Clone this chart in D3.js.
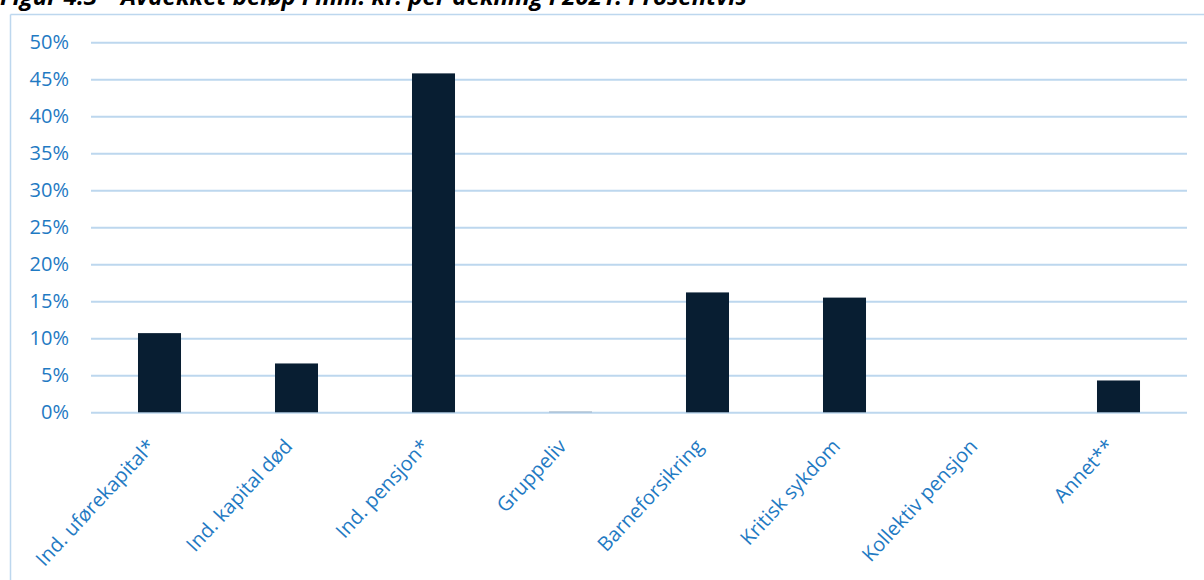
<!DOCTYPE html>
<html>
<head>
<meta charset="utf-8">
<script src="https://cdn.jsdelivr.net/npm/d3@7"></script>
<style>
  html, body { margin: 0; padding: 0; background: #fff; }
  svg { display: block; font-family: "Open Sans", "Noto Sans", sans-serif; }
</style>
</head>
<body>
<svg id="chart" width="1204" height="580"></svg>
<script>
// Share of uncovered amount (mill. kr.) per coverage type, 2021
const categories = [
  "Ind. uførekapital*",
  "Ind. kapital død",
  "Ind. pensjon*",
  "Gruppeliv",
  "Barneforsikring",
  "Kritisk sykdom",
  "Kollektiv pensjon",
  "Annet**"
];
const shares = [10.7, 6.6, 45.8, 0.1, 16.2, 15.5, 0.0, 4.3];
const yTicks = [0, 5, 10, 15, 20, 25, 30, 35, 40, 45, 50];
const titleText = "Figur 4.3 – Avdekket beløp i mill. kr. per dekning i 2021. Prosentvis";

const svg = d3.select("#chart");
const W = 1204, H = 580;
const plot = { left: 91, right: 1187, top: 42.3, bottom: 412.3 };

const x = d3.scaleBand()
  .domain(categories)
  .range([plot.left, plot.right])
  .paddingInner(0.686)
  .paddingOuter(0.343);

const y = d3.scaleLinear()
  .domain([0, 50])
  .range([plot.bottom, plot.top]);

// Title (cropped by the top edge)
svg.append("text")
  .attr("x", 0)
  .attr("y", 5)
  .attr("font-size", 24)
  .attr("font-weight", "bold")
  .attr("font-style", "italic")
  .attr("fill", "#000")
  .text(titleText);

// Chart frame
svg.append("line")
  .attr("x1", 10.5).attr("x2", W).attr("y1", 14.5).attr("y2", 14.5)
  .attr("stroke", "#bdd7ee").attr("stroke-width", 1.5);
svg.append("line")
  .attr("x1", 10.5).attr("x2", 10.5).attr("y1", 14.5).attr("y2", H)
  .attr("stroke", "#bdd7ee").attr("stroke-width", 1.5);

// Gridlines and y tick labels
const yAxis = d3.axisLeft(y)
  .tickValues(yTicks)
  .tickSize(-(plot.right - plot.left))
  .tickPadding(22)
  .tickFormat(d => d + "%");

const gy = svg.append("g")
  .attr("transform", `translate(${plot.left},0)`)
  .call(yAxis);
gy.select(".domain").remove();
gy.selectAll(".tick line")
  .attr("stroke", "#bdd7ee")
  .attr("stroke-width", 2);
gy.selectAll(".tick text")
  .attr("fill", "#1f7ac3")
  .attr("font-size", 20)
  .attr("font-family", "\"Open Sans\", sans-serif");

// Bars
svg.append("g")
  .selectAll("rect")
  .data(categories.map((c, i) => ({ c, v: shares[i] })))
  .join("rect")
  .attr("x", d => x(d.c))
  .attr("width", x.bandwidth())
  .attr("y", d => y(d.v))
  .attr("height", d => y(0) - y(d.v))
  .attr("fill", d => d.v < 0.5 ? "#8fa4b8" : "#081e32");

// Rotated category labels
const xAxis = d3.axisBottom(x).tickSize(0).tickPadding(0);
const gx = svg.append("g")
  .attr("transform", `translate(0,${plot.bottom})`)
  .call(xAxis);
gx.select(".domain").remove();
gx.selectAll(".tick text")
  .attr("fill", "#1f7ac3")
  .attr("font-size", 20)
  .attr("font-family", "\"Open Sans\", sans-serif")
  .attr("text-anchor", "end")
  .attr("dy", null)
  .attr("y", 0)
  .attr("transform", "translate(-3,35) rotate(-47)");
</script>
</body>
</html>
